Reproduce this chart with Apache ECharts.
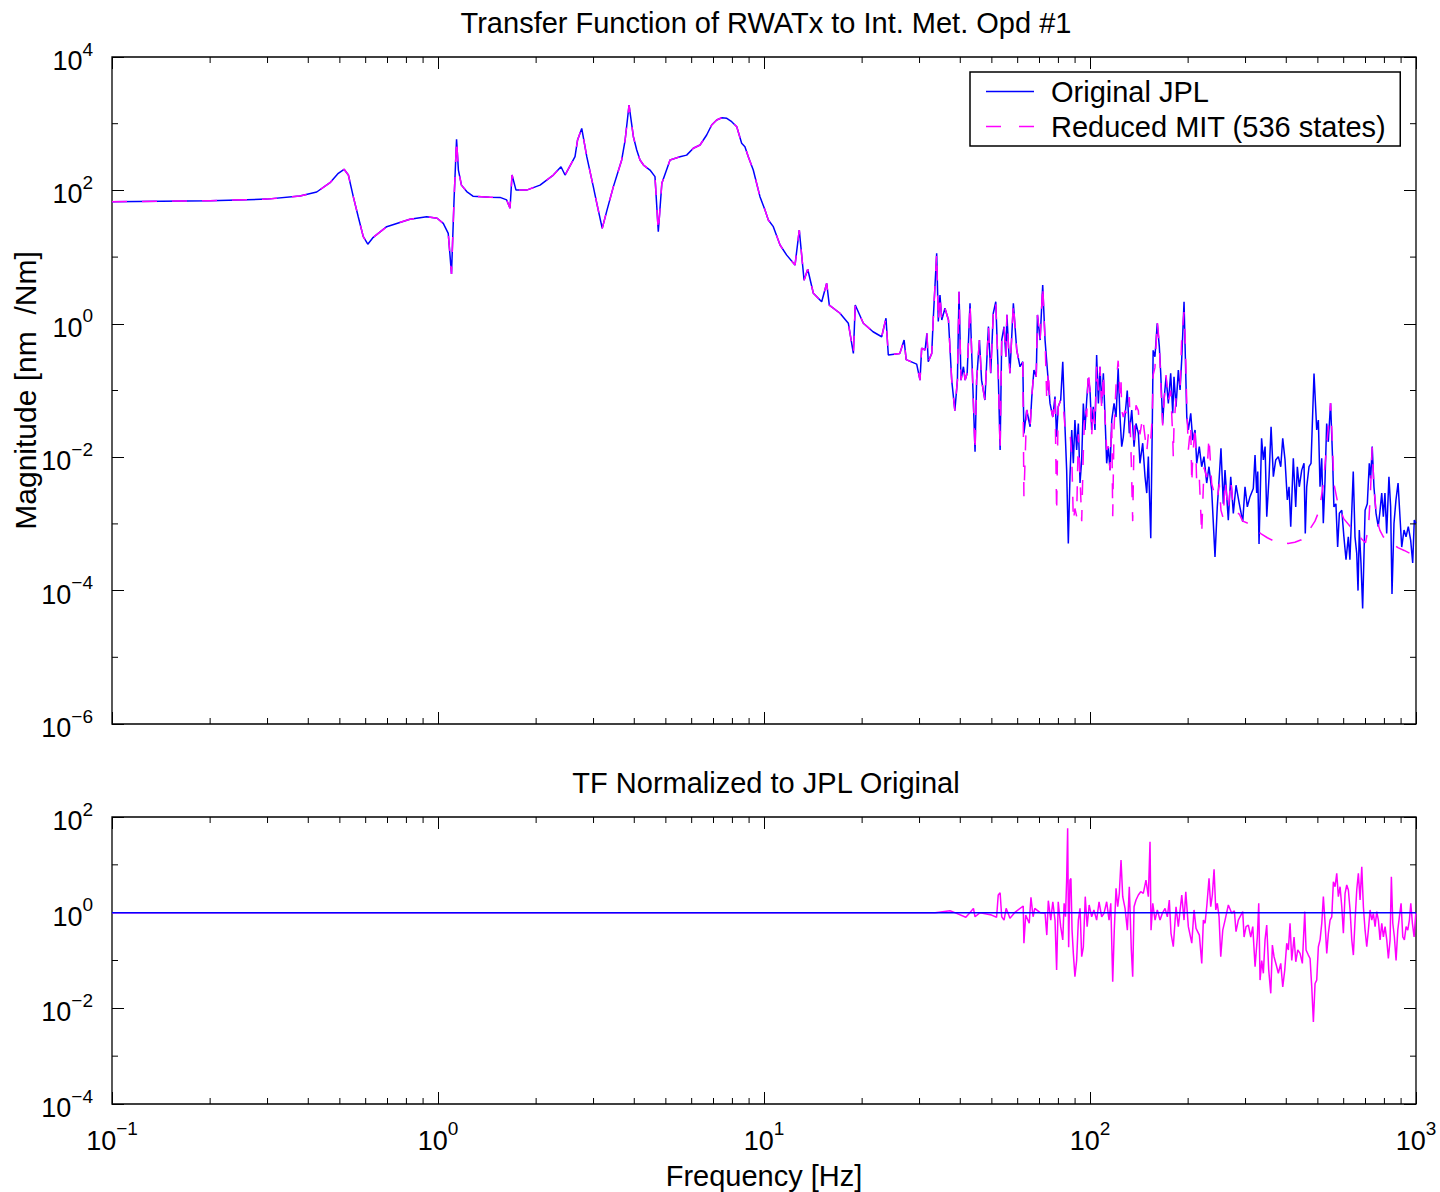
<!DOCTYPE html>
<html>
<head>
<meta charset="utf-8">
<script src="https://cdn.jsdelivr.net/npm/echarts@6/dist/echarts.min.js"></script>
<style>html,body{margin:0;padding:0;background:#fff}#chart{width:1440px;height:1192px}</style>
</head>
<body>
<div id="chart"></div>
<script>
// ---------------- data ----------------
const freqJPL = [
 0.1,0.2,0.298,0.377,0.4246,0.4664,0.4945,0.515,0.531,0.5497,
 0.5693,0.59,0.609,0.633,0.696,0.82,0.923,0.994,1.038,1.075,
 1.10,1.12,1.14,1.155,1.18,1.225,1.28,1.44,1.55,1.624,
 1.663,1.687,1.735,1.87,2.056,2.258,2.384,2.453,2.632,2.68,
 2.76,2.86,2.996,3.07,3.19,3.29,3.45,3.66,3.75,3.855,
 3.975,4.07,4.165,4.27,4.47,4.63,4.74,4.86,5.15,5.525,
 5.79,6.07,6.365,6.67,6.91,7.16,7.42,7.69,7.96,8.25,
 8.54,8.74,8.95,9.27,9.72,10.07,10.31,10.68,11.2,11.74,
 12.45,12.83,13.27,13.62,14.17,15.03,15.57,15.86,17.1,18.14,
 18.8,19.05,20.17,21.6,22.96,23.67,24.06,26.1,26.9,27.3,
 29.4,30.1,30.45,31.2,31.6,31.9,32.7,33.06,33.86,34.25,
 34.66,35.1,35.9,36.8,37.65,38.5,39.2,39.65,40.2,40.9,
 41.4,42.0,42.85,44.4,44.9,45.8,46.5,47.6,48.8,49.6,
 50.5,51.4,52.3,53.0,53.6,54.5,55.2,55.6,56.8,58.2,
 59.6,61.0,62.2,62.7,63.95,65.5,66.3,67.3,68.4,69.0,
 70.3,71.6,72.8,74.0,75.4,76.9,78.1,79.0,79.9,81.3,
 82.5,83.8,84.8,85.8,86.8,87.9,88.9,89.9,91.0,92.1,
 93.2,94.3,95.4,96.5,97.7,98.8,100,101.2,102.3,103.6,
 104.8,106.1,107.3,108.6,109.9,111.2,112.5,113.8,115.2,116.6,
 118.5,120.2,122,123.6,125.1,126.5,128.0,130.1,132.0,134.3,
 136.5,138.4,140.7,142.3,145.1,147.5,149.3,151.0,153.6,155.2,
 156.2,158.2,160.8,163.2,164.8,167.1,168.7,171.1,173.9,176.8,
 179.4,181.0,183.6,186.6,188.9,191.1,194.3,196.1,198.1,200.3,
 203.7,206.6,210.0,212.5,216.4,220.1,223.7,228.0,231.7,236.2,
 241.8,245.7,249.2,252.2,256.4,259.5,265.6,270.2,275.2,280.5,
 287.1,294.1,298.9,303.8,309.6,316.9,320.8,324.6,327,330,
 336,340.2,344.4,348.5,354.2,359.3,365.1,371.3,378.2,384.7,
 390.1,396.5,403,407.9,412.8,420.4,427.6,432.5,438.5,446.1,
 453.4,457.5,462.1,469.7,476.4,486.6,496,501.7,507.7,513.8,
 519.6,526,532.1,538.2,547,555,560,568,575,582,
 592,601,610,620,627,635,642,650,658,664,
 670,678,686,698,709,719,726,734,743,754,
 766,775,785,794,803,813,826,836,844,856,
 868,881,893,904,919,932,947,963,977,988,
 1000
];
const magJPL = [
 67.7,70,74,82.4,94.6,130.6,180,207,170,80.5,
 40.3,20.2,15.6,19.8,28.6,36.9,40.3,38.2,32,22.7,
 5.6,72,583,202,120,96,82,79,78.5,72,
 54,170,101,101,120,170,226,170,320,570,
 850,320,113,64,27,48,113,286,569,1905,
 638,403,286,240,202,161,24,128,286,320,
 338,428,479,677,955,1137,1230,1203,1072,902,
 508,452,320,202,80.5,50.8,36,28.6,15.2,10.7,
 7.6,25.5,4.5,6.57,2.87,2.14,4.05,1.91,1.44,1.02,
 0.36,1.91,1.02,0.76,0.64,1.21,0.34,0.36,0.57,0.29,
 0.249,0.143,0.43,0.405,0.72,0.27,0.36,1.21,11.4,1.08,
 2.7,1.14,1.71,1.14,0.143,0.0498,0.143,3.03,0.143,0.227,
 0.143,0.181,2.03,0.0121,0.143,0.57,0.143,0.072,0.906,0.181,
 1.44,2.14,0.181,0.0128,0.57,0.905,0.32,1.36,0.181,2.03,
 0.405,0.227,0.27,0.0227,0.051,0.0286,0.081,0.203,0.161,1.36,
 0.57,3.82,0.57,0.203,0.064,0.040,0.081,0.0203,0.057,0.072,
 0.27,0.0286,0.0064,0.00051,0.0051,0.0256,0.0081,0.036,0.0128,0.032,
 0.0041,0.0091,0.064,0.0256,0.072,0.152,0.102,0.0256,0.057,0.0256,
 0.34,0.064,0.227,0.064,0.181,0.040,0.0081,0.0144,0.0064,0.036,
 0.064,0.040,0.215,0.040,0.0144,0.02,0.040,0.1,0.0228,0.051,
 0.0144,0.032,0.0228,0.0081,0.0162,0.0051,0.0029,0.0102,0.00061,0.0256,
 0.40,0.32,1.02,0.45,0.181,0.032,0.072,0.161,0.064,0.181,
 0.0455,0.161,0.057,0.203,0.102,0.286,2.14,0.32,0.040,0.0256,
 0.0455,0.018,0.0256,0.0081,0.0144,0.0072,0.0102,0.0041,0.0072,0.0032,
 0.00032,0.0018,0.0051,0.0136,0.002,0.0064,0.00114,0.0051,0.00144,0.0038,
 0.002,0.00108,0.0036,0.0018,0.00256,0.0034,0.0108,0.0029,0.0061,0.0005,
 0.0192,0.0091,0.0144,0.00128,0.0051,0.0286,0.0051,0.0091,0.0102,0.0072,
 0.0192,0.0091,0.00228,0.0036,0.00091,0.0096,0.0018,0.0072,0.0036,0.0064,
 0.0081,0.00072,0.0036,0.0072,0.0081,0.18,0.0256,0.036,0.0036,0.0096,
 0.00102,0.0046,0.032,0.017,0.0646,0.0091,0.0018,0.002,0.00045,0.00144,
 0.0016,0.00064,0.00029,0.00064,0.00029,0.00144,0.0061,0.00064,0.00036,0.0001,
 0.00081,0.00026,0.000054,0.0016,0.002,0.0081,0.0048,0.0144,0.0036,0.00144,
 0.00091,0.00152,0.0029,0.00128,0.0029,0.00072,0.0051,0.0018,0.000089,0.00102,
 0.00228,0.0041,0.00128,0.00045,0.00081,0.00064,0.00091,0.00057,0.00026,0.00114,
 0.00102
];
// Reduced MIT model: identical to JPL below its first listed frequency, then these values
const freqMIT = [
 61.0,62.2,62.7,63.95,65.5,66.3,67.3,68.4,69.0,70.3,
 71.6,72.8,73.7,74.5,75.4,76.9,78.1,79.0,79.9,81.3,
 82.5,83.8,84.8,85.8,86.8,87.9,88.9,89.9,91.0,92.1,
 93.2,94.3,95.4,96.5,97.7,98.8,100,101.2,102.3,103.6,
 104.8,106.1,107.3,108.6,109.9,111.2,112.5,113.8,115.2,116.6,
 117.4,118.5,120.2,122,123.6,124.5,125.1,126.5,128.0,130.1,
 132.0,133.9,135.2,136.5,138.4,140.7,142.3,145.1,147.5,149.3,
 151.0,152.8,153.6,155.2,156.2,158.2,160.8,163.2,164.8,167.1,
 168.7,171.1,173.9,176.8,179.4,180.1,181.0,183.6,186.6,188.9,
 191.1,194.3,196.1,198.1,200.3,203.7,205.2,206.6,210.0,212.5,
 216.4,220.1,223.7,228.0,231.7,236.2,241.8,245.7,249.2,252.2,
 256.4,259.5,265.6,270.2,275.2,280.5,287.1,294.1,303.8,320,
 336,350,365,385,405,425,445,470,490,505,
 520,535,547,553,560,575,600,630,658,680,
 700,715,725,734,742,757,775,794,820,850,
 880,920,960,1000
];
const magMIT = [
 0.227,0.27,0.0026,0.051,0.0286,0.081,0.203,0.161,1.36,0.57,
 3.82,0.57,0.07,0.2,0.064,0.040,0.081,0.0015,0.057,0.072,
 0.073,0.0286,0.03,0.025,0.024,0.011,0.0011,0.0017,0.0013,0.022,
 0.005,0.0011,0.012,0.055,0.04,0.2,0.102,0.021,0.057,0.03,
 0.24,0.1,0.227,0.053,0.181,0.04,0.013,0.0144,0.0064,0.036,
 0.0013,0.027,0.12,0.28,0.09,0.15,0.05,0.04,0.05,0.043,
 0.08,0.008,0.0011,0.019,0.06,0.05,0.022,0.04,0.02,0.012,
 0.022,0.025,0.018,0.04,0.17,0.22,1.1,0.5,0.13,0.03,
 0.07,0.17,0.07,0.1,0.02,0.01,0.03,0.076,0.1,0.1,
 0.6,1.5,0.5,0.06,0.013,0.03,0.004,0.01,0.03,0.004,
 0.005,0.0007,0.007,0.005,0.02,0.004,0.0026,0.0023,0.004,0.0016,
 0.0012,0.0045,0.0016,0.0045,0.0018,0.0015,0.0014,0.0011,0.00103,0.00085,
 0.0007,0.00062,0.00056,0.00053,0.00051,0.00053,0.00058,0.0008,0.0011,0.0016,
 0.004,0.02,0.0646,0.02,0.004,0.0021,0.0012,0.0009,0.00072,0.0006,
 0.00052,0.0009,0.003,0.0141,0.004,0.0012,0.0008,0.00064,0.00058,0.0005,
 0.00044,0.0004,0.00036,0.00033
];
// Lower panel: TF normalized to JPL original
const freqRatio = [
 0.1,26,33.5,37.2,38.5,41.6,42.8,43.9,44.4,46,
 49.9,51.7,52.3,53.0,53.6,54.5,55.3,56.0,56.8,58.7,
 62.4,62.7,63.5,65.1,65.9,66.9,67.7,70.3,72.8,73.7,
 74.5,75.8,76.9,78.1,79.0,79.9,81.3,82.5,83.3,84.1,
 84.8,85.4,86.0,86.8,87.4,88.1,88.9,89.9,91.0,92.1,
 93.2,94.3,95.4,96.7,98.0,99.4,101.2,102.8,104.8,106.6,
 108.6,110.4,112.5,114.4,115.8,117.4,118.7,120.2,121.6,123.0,
 124.5,126.0,128.1,130.2,132.0,133.9,135.2,136.5,138.4,140.7,
 143.1,145.7,148.5,151.0,152.8,153.9,155.8,158.3,160.9,164.0,
 166.7,169.9,172.7,175.1,177.2,180.1,183.6,186.6,191.2,194.3,
 196.7,200.3,205.2,208.5,211.5,216.5,220.2,222.7,225.4,228.1,
 231.8,234.6,237.3,240.2,243.1,245.8,248.8,251.8,255.4,259.6,
 265.7,272.1,277.2,280.5,285.1,294.1,296.9,301.1,306.0,311.3,
 315.7,320.9,326.1,329.3,332.4,336.4,340.2,344.3,348.4,353.4,
 358.5,362.6,366.9,373.9,378.2,384.7,390.2,395.7,401.3,405.9,
 410.8,415.8,422.6,427.8,433.8,440.9,448.1,455.8,460.0,467.5,
 473.2,478.9,484.4,490.2,496.0,501.8,507.8,514.0,519.8,526.1,
 532.4,538.5,545.0,551.6,557.9,564.6,571.3,577.9,584.9,592.0,
 598.7,606.0,613.1,620.2,627.7,635.3,642.5,650.3,658.0,665.6,
 673.7,681.8,689.6,697.9,706.2,714.3,723.0,731.7,740.0,749.0,
 757.9,766.6,775.9,785.3,794.2,803.8,813.4,822.7,832.7,840.3,
 848.8,858.4,868.7,879.2,889.2,900.0,910.9,921.2,932.3,943.6,
 954.3,963.9,974.8,986.6,998.6,1000
];
const ratioMIT = [
 1,1,1,1.10,1,0.80,1,1.23,0.82,1,
 0.89,0.80,2.34,2.61,0.82,0.70,1.23,1,0.76,1,
 1.38,0.23,0.89,0.60,2.1,0.82,1.23,1,0.97,0.34,
 1.78,0.70,1.69,0.70,0.063,1.69,0.51,0.27,1.57,0.82,
 4.8,58,0.19,4.8,5.2,0.43,0.14,0.046,0.10,0.70,
 1.23,0.12,0.19,2.16,0.51,1.45,0.82,1.14,0.70,1.69,
 0.82,0.97,1.69,0.70,1.57,0.036,0.43,3.23,1.33,2.54,
 12.6,2.16,1.23,0.43,3.49,0.166,0.046,1.33,1.84,2.34,
 2.74,2.54,4.8,2.16,30.5,0.43,1.57,0.70,1.14,0.70,
 0.97,1.23,0.82,1.84,0.37,0.194,1.33,0.51,2.34,0.70,
 2.74,0.51,0.23,1.14,0.47,0.34,0.087,0.70,0.60,1.33,
 5.2,1.33,2.34,8.05,1.14,1.57,0.82,0.12,0.43,0.70,
 1.45,0.97,1.1,0.40,0.70,1.05,0.31,0.51,0.55,0.31,
 0.51,0.074,0.31,1.57,0.039,0.10,0.054,0.27,0.55,0.063,
 0.0206,0.21,0.12,0.074,0.054,0.087,0.028,0.063,0.23,0.166,
 0.60,0.10,0.31,0.094,0.166,0.141,0.087,1.05,0.166,0.13,
 0.11,0.028,0.0052,0.033,0.039,0.194,0.27,0.60,2.16,0.60,
 0.141,0.37,0.70,0.82,4.44,3.49,6.65,2.16,3.49,1.33,
 0.37,2.54,3.79,2.98,1.14,0.27,0.13,0.70,2.98,6.65,
 1.84,9.1,1.33,0.43,0.194,0.43,1.14,0.70,0.97,0.51,
 1.05,0.70,0.27,0.60,0.31,0.51,0.27,0.11,0.27,5.65,
 0.60,0.31,0.10,0.43,0.82,1.57,0.31,0.27,0.51,0.43,
 0.70,1.57,0.60,0.31,0.97,1
];
const freqRatioJPL = [0.1, 1000];
const ratioJPL = [1, 1];

const seriesNames = ['Original JPL', 'Reduced MIT (536 states)'];
const titles = ['Transfer Function of RWATx to Int. Met. Opd #1', 'TF Normalized to JPL Original'];
const xAxisTitle = 'Frequency [Hz]';
const yAxisTitle = 'Magnitude [nm  /Nm]';
const xRange = [0.1, 1000];
const yRangeTop = [1e-6, 1e4];
const yRangeBottom = [1e-4, 1e2];
const yMinorTop = [1e-5, 1e-3, 1e-1, 1e1, 1e3];
const yMinorBottom = [1e-3, 1e-1, 1e1];
const xMinorTicks = [];
[0.1, 1, 10, 100].forEach(d => { for (let m = 2; m <= 9; m++) xMinorTicks.push(+(m * d).toPrecision(3)); });

// ---------------- build ----------------
const FONT = "'Liberation Sans', Arial, Helvetica, sans-serif";
const TXT = 29;
const jplData = freqJPL.map((f, i) => [f, magJPL[i]]);
const mitData = jplData.filter(d => d[0] < freqMIT[0]).concat(freqMIT.map((f, i) => [f, magMIT[i]]));
const ratioData = freqRatio.map((f, i) => [f, ratioMIT[i]]);
const ratioJPLData = freqRatioJPL.map((f, i) => [f, ratioJPL[i]]);

function expLabel(v) {
  const e = Math.round(Math.log10(v));
  return '{b|10}{s|' + (e < 0 ? '\u2212' + (-e) : String(e)) + '}';
}
const richLbl = {
  b: { fontSize: 27, fontFamily: FONT, color: '#000', verticalAlign: 'bottom', padding: [8, 0, 0, 0] },
  s: { fontSize: 19, fontFamily: FONT, color: '#000', verticalAlign: 'top' }
};
const tickStyle = { inside: true, length: 12, lineStyle: { color: '#000', width: 1 } };

function xAxisDef(grid, pos, withLabels) {
  const a = {
    gridIndex: grid, type: 'log', logBase: 10, min: xRange[0], max: xRange[1], interval: 1,
    position: pos, axisLine: { show: false }, axisTick: tickStyle, splitLine: { show: false },
    axisLabel: withLabels ? { show: true, formatter: expLabel, rich: richLbl, margin: 15 } : { show: false }
  };
  if (withLabels) {
    a.name = xAxisTitle; a.nameLocation = 'middle'; a.nameGap = 57;
    a.nameTextStyle = { fontSize: TXT, fontFamily: FONT, color: '#000' };
  }
  return a;
}
function yAxisDef(grid, range, pos, withLabels, name) {
  const a = {
    gridIndex: grid, type: 'log', logBase: 10, min: range[0], max: range[1], interval: 2,
    position: pos, axisLine: { show: false }, axisTick: tickStyle, splitLine: { show: false },
    axisLabel: withLabels ? { show: true, formatter: expLabel, rich: richLbl, margin: 19 } : { show: false }
  };
  if (name) {
    a.name = name; a.nameLocation = 'middle'; a.nameGap = 72; a.nameRotate = 90; a.nameMoveOverlap = false;
    a.nameTextStyle = { fontSize: 30, fontFamily: FONT, color: '#000' };
  }
  return a;
}
function minorX(yr, len) {
  return function (params, api) {
    const v = api.value(0);
    const b = api.coord([v, yr[0]]);
    const t = api.coord([v, yr[1]]);
    const st = { stroke: '#000', lineWidth: 1 };
    return { type: 'group', children: [
      { type: 'line', shape: { x1: b[0], y1: b[1], x2: b[0], y2: b[1] - len }, style: st },
      { type: 'line', shape: { x1: t[0], y1: t[1], x2: t[0], y2: t[1] + len }, style: st }
    ] };
  };
}
function minorY(len) {
  return function (params, api) {
    const v = api.value(1);
    const l = api.coord([xRange[0], v]);
    const r = api.coord([xRange[1], v]);
    const st = { stroke: '#000', lineWidth: 1 };
    return { type: 'group', children: [
      { type: 'line', shape: { x1: l[0], y1: l[1], x2: l[0] + len, y2: l[1] }, style: st },
      { type: 'line', shape: { x1: r[0], y1: r[1], x2: r[0] - len, y2: r[1] }, style: st }
    ] };
  };
}

const gridBase = { left: 112, width: 1304, show: true, borderColor: '#000', borderWidth: 1.3, backgroundColor: '#fff',
                   containLabel: false, outerBoundsMode: 'none' };
const chart = echarts.init(document.getElementById('chart'), null, { renderer: 'svg', width: 1440, height: 1192 });
chart.setOption({
  animation: false,
  backgroundColor: '#fff',
  textStyle: { fontFamily: FONT },
  title: [
    { text: titles[0], left: 766, top: 8, padding: 0, textAlign: 'center', textStyle: { fontSize: TXT, fontWeight: 'normal', fontFamily: FONT, color: '#000' } },
    { text: titles[1], left: 766, top: 768, padding: 0, textAlign: 'center', textStyle: { fontSize: TXT, fontWeight: 'normal', fontFamily: FONT, color: '#000' } }
  ],
  legend: {
    data: [
      { name: seriesNames[0], icon: 'path://M0,0h48v1.6h-48z', itemStyle: { color: '#0000ff' } },
      { name: seriesNames[1], icon: 'path://M0,0h15v1.6h-15zM33,0h15v1.6h-15z', itemStyle: { color: '#ff00ff' } }
    ],
    orient: 'vertical', left: 970, top: 72, selectedMode: false,
    padding: [5, 14, 5, 16], borderColor: '#000', borderWidth: 1.5, backgroundColor: '#fff',
    itemWidth: 48, itemHeight: 14, itemGap: 6,
    textStyle: { fontSize: TXT, fontFamily: FONT, color: '#000', lineHeight: 26, padding: [0, 0, 0, 12] }
  },
  grid: [
    Object.assign({}, gridBase, { top: 57, height: 667 }),
    Object.assign({}, gridBase, { top: 817, height: 287 })
  ],
  xAxis: [xAxisDef(0, 'bottom', false), xAxisDef(0, 'top', false), xAxisDef(1, 'bottom', true), xAxisDef(1, 'top', false)],
  yAxis: [yAxisDef(0, yRangeTop, 'left', true, yAxisTitle), yAxisDef(0, yRangeTop, 'right', false),
          yAxisDef(1, yRangeBottom, 'left', true), yAxisDef(1, yRangeBottom, 'right', false)],
  series: [
    { name: seriesNames[0], type: 'line', xAxisIndex: 0, yAxisIndex: 0, data: jplData, symbol: 'none', showSymbol: false,
      color: '#0000ff', lineStyle: { color: '#0000ff', width: 1.5 }, z: 3 },
    { name: seriesNames[1], type: 'line', xAxisIndex: 0, yAxisIndex: 0, data: mitData, symbol: 'none', showSymbol: false,
      color: '#ff00ff', lineStyle: { color: '#ff00ff', width: 1.5, type: [15, 15] }, z: 4 },
    { name: 'MIT / JPL', type: 'line', xAxisIndex: 2, yAxisIndex: 2, data: ratioData, symbol: 'none', showSymbol: false,
      color: '#ff00ff', lineStyle: { color: '#ff00ff', width: 1.5 }, z: 3 },
    { name: 'JPL / JPL', type: 'line', xAxisIndex: 2, yAxisIndex: 2, data: ratioJPLData, symbol: 'none', showSymbol: false,
      color: '#0000ff', lineStyle: { color: '#0000ff', width: 1.5 }, z: 4 },
    { type: 'custom', xAxisIndex: 0, yAxisIndex: 0, silent: true, z: 5, renderItem: minorX(yRangeTop, 6), data: xMinorTicks.map(v => [v, yRangeTop[0]]) },
    { type: 'custom', xAxisIndex: 2, yAxisIndex: 2, silent: true, z: 5, renderItem: minorX(yRangeBottom, 6), data: xMinorTicks.map(v => [v, yRangeBottom[0]]) },
    { type: 'custom', xAxisIndex: 0, yAxisIndex: 0, silent: true, z: 5, renderItem: minorY(6), data: yMinorTop.map(v => [xRange[0], v]) },
    { type: 'custom', xAxisIndex: 2, yAxisIndex: 2, silent: true, z: 5, renderItem: minorY(6), data: yMinorBottom.map(v => [xRange[0], v]) }
  ]
});
</script>
</body>
</html>
